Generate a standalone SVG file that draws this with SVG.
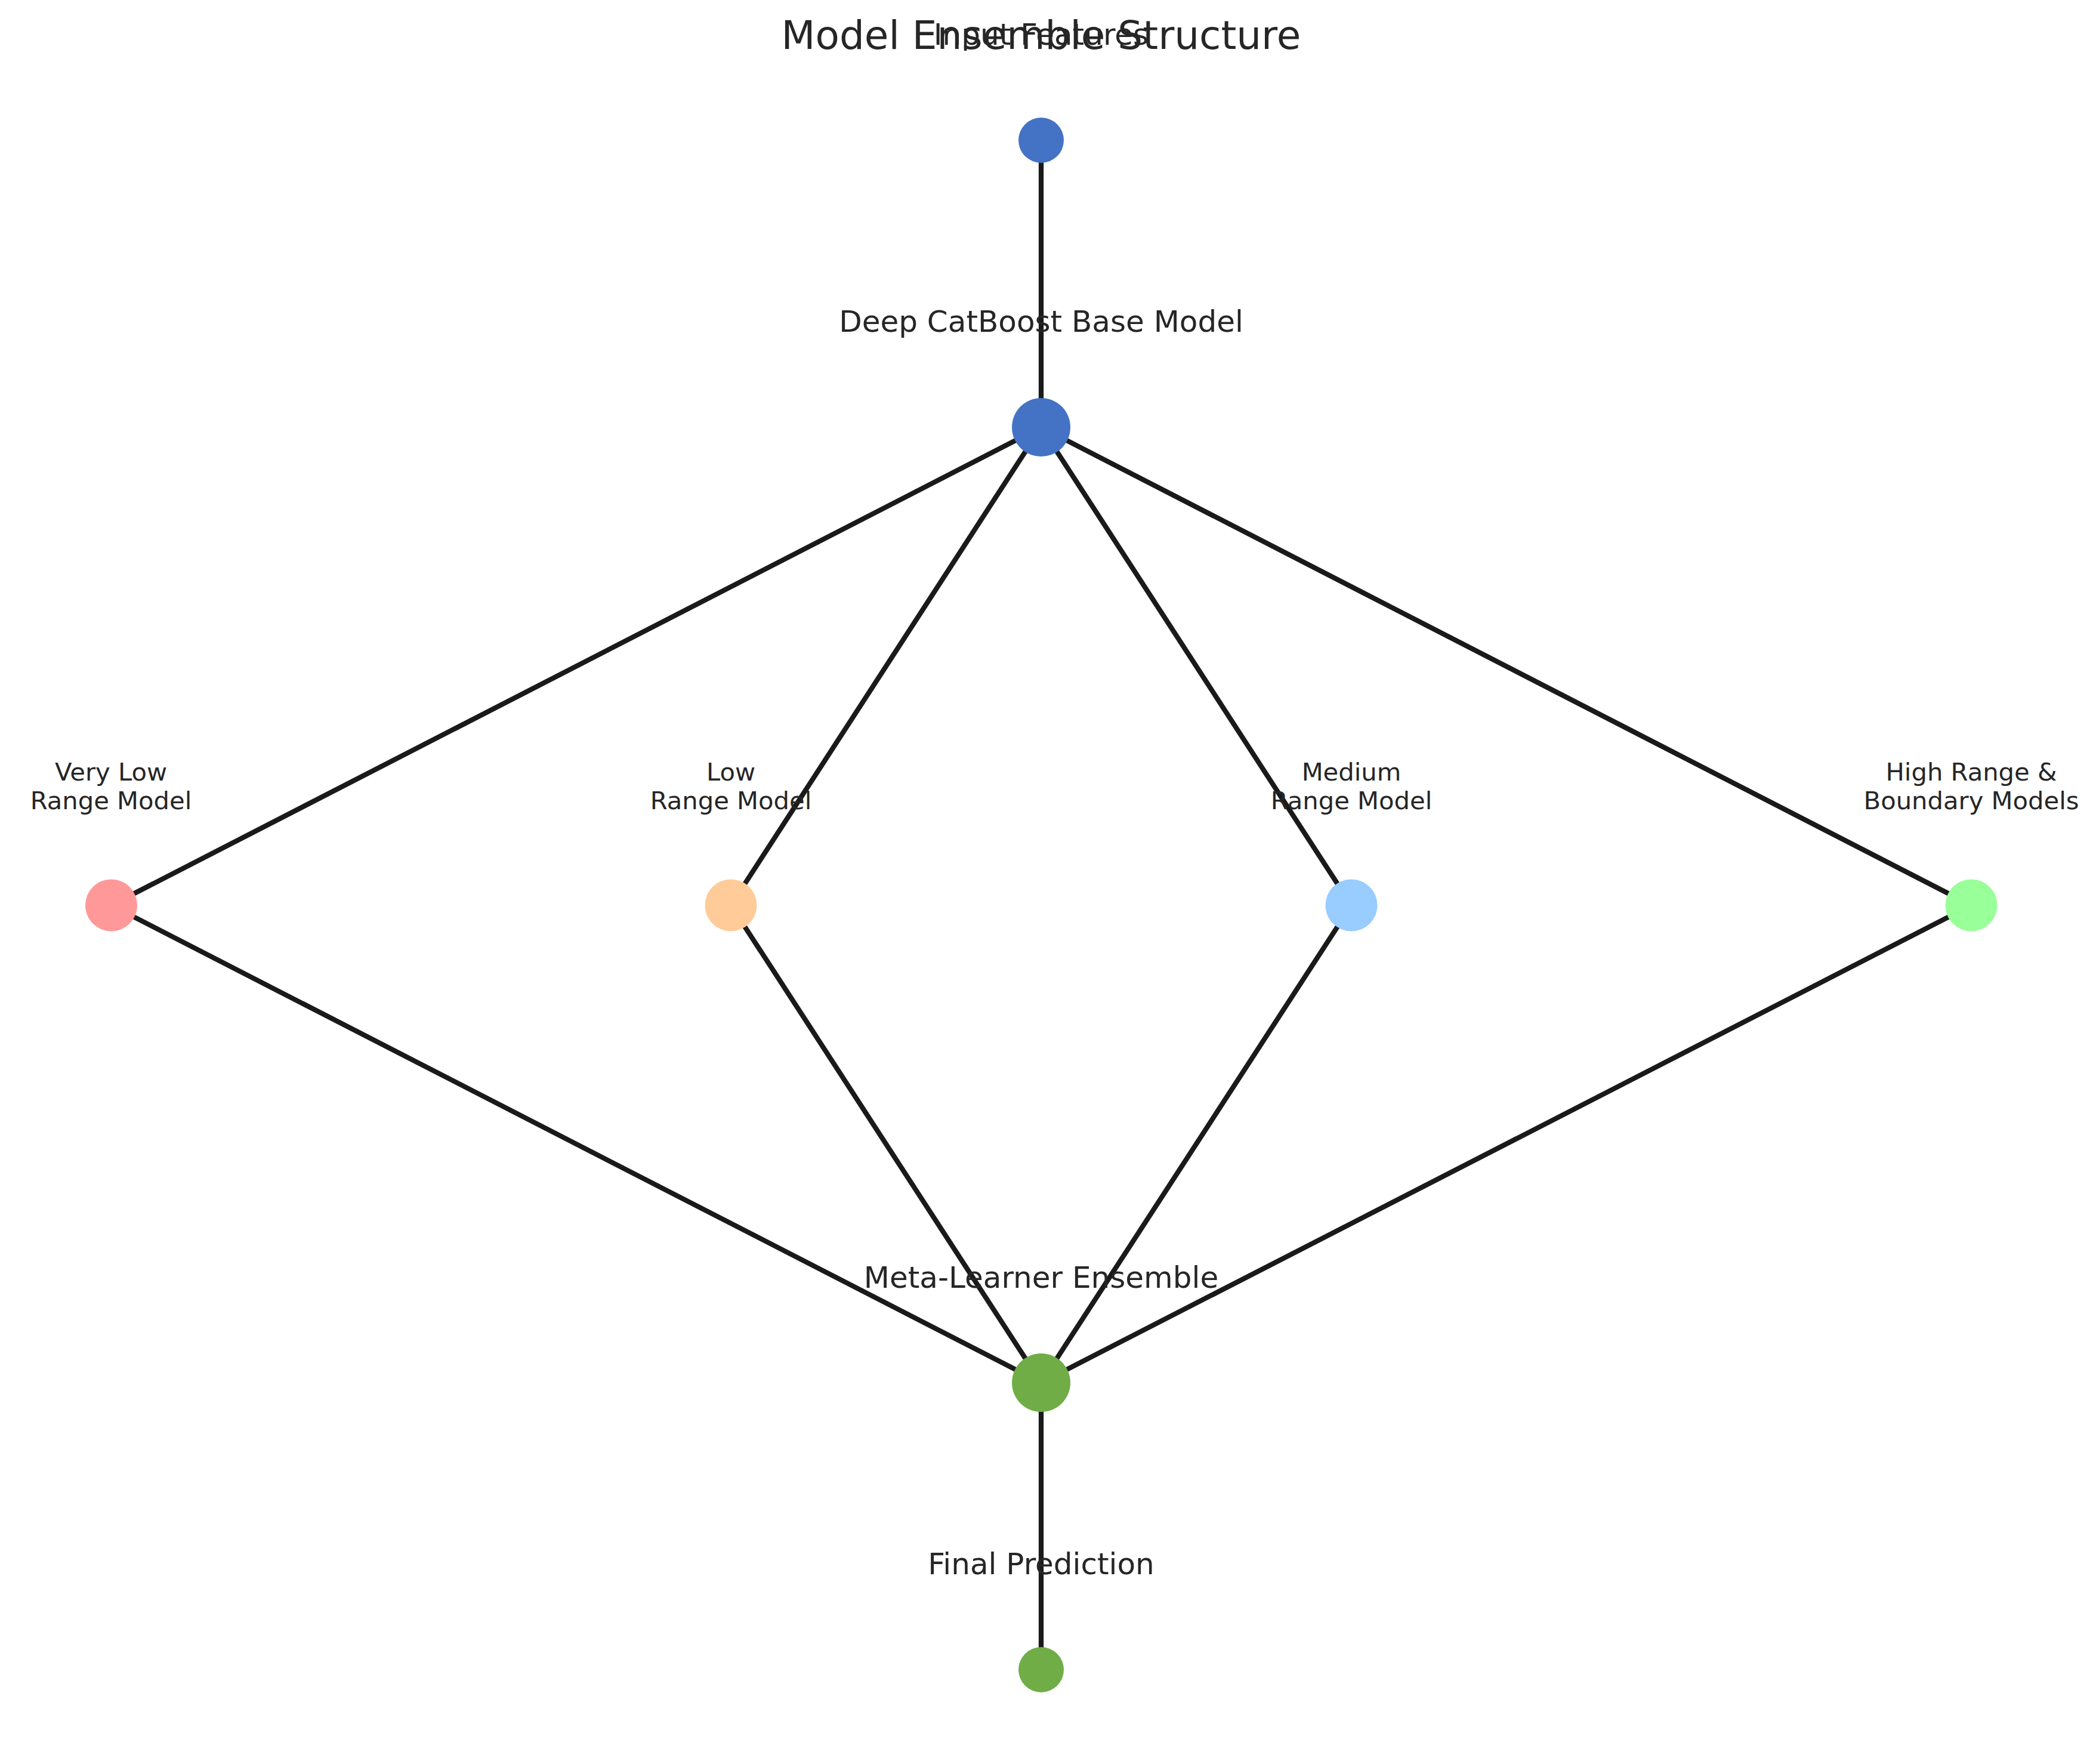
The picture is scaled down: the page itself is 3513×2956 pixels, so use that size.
<svg xmlns="http://www.w3.org/2000/svg" width="3513" height="2956" viewBox="0 0 3513 2956">
  <style>
    .edge { stroke: #1a1a1a; stroke-width: 8.3; stroke-linecap: butt; fill: none; }
    .title { font-family: "DejaVu Sans", sans-serif; font-size: 66px; fill: #262626; text-anchor: middle; }
    .lbl { font-family: "DejaVu Sans", sans-serif; font-size: 50px; fill: #262626; text-anchor: middle; }
    .sub { font-family: "DejaVu Sans", sans-serif; font-size: 41.7px; fill: #262626; text-anchor: middle; }
  </style>
  <rect width="3513" height="2956" fill="#ffffff"/>

  <!-- connectors -->
  <g id="edges">
    <line class="edge" x1="1745" y1="235" x2="1745" y2="716"/>
    <line class="edge" x1="1745" y1="716" x2="186.5" y2="1517"/>
    <line class="edge" x1="1745" y1="716" x2="1225" y2="1517"/>
    <line class="edge" x1="1745" y1="716" x2="2265" y2="1517"/>
    <line class="edge" x1="1745" y1="716" x2="3304" y2="1517"/>
    <line class="edge" x1="186.5" y1="1517" x2="1745" y2="2317"/>
    <line class="edge" x1="1225" y1="1517" x2="1745" y2="2317"/>
    <line class="edge" x1="2265" y1="1517" x2="1745" y2="2317"/>
    <line class="edge" x1="3304" y1="1517" x2="1745" y2="2317"/>
    <line class="edge" x1="1745" y1="2317" x2="1745" y2="2798"/>
  </g>

  <!-- nodes -->
  <g id="node-input">
    <circle cx="1745" cy="235" r="38" fill="#4472C4"/>
  </g>
  <g id="node-base">
    <circle cx="1745" cy="716" r="49" fill="#4472C4"/>
  </g>
  <g id="node-verylow">
    <circle cx="186.5" cy="1517" r="43.5" fill="#FF9999"/>
  </g>
  <g id="node-low">
    <circle cx="1225" cy="1517" r="43.5" fill="#FFCC99"/>
  </g>
  <g id="node-medium">
    <circle cx="2265" cy="1517" r="43.5" fill="#99CCFF"/>
  </g>
  <g id="node-high">
    <circle cx="3304" cy="1517" r="43.5" fill="#99FF99"/>
  </g>
  <g id="node-meta">
    <circle cx="1745" cy="2317" r="49" fill="#70AD47"/>
  </g>
  <g id="node-final">
    <circle cx="1745" cy="2798" r="38" fill="#70AD47"/>
  </g>

  <!-- labels -->
  <g id="labels">
    <text class="lbl" x="1745" y="75">Input Features</text>
    <text class="lbl" x="1745" y="556">Deep CatBoost Base Model</text>
    <text class="sub" x="186" y="1307.5">Very Low</text>
    <text class="sub" x="186" y="1355.5">Range Model</text>
    <text class="sub" x="1225" y="1307.5">Low</text>
    <text class="sub" x="1225" y="1355.5">Range Model</text>
    <text class="sub" x="2265" y="1307.5">Medium</text>
    <text class="sub" x="2265" y="1355.5">Range Model</text>
    <text class="sub" x="3304" y="1307.5">High Range &amp;</text>
    <text class="sub" x="3304" y="1355.5">Boundary Models</text>
    <text class="lbl" x="1745" y="2158">Meta-Learner Ensemble</text>
    <text class="lbl" x="1745" y="2638">Final Prediction</text>
  </g>

  <text class="title" x="1745" y="82">Model Ensemble Structure</text>
</svg>
